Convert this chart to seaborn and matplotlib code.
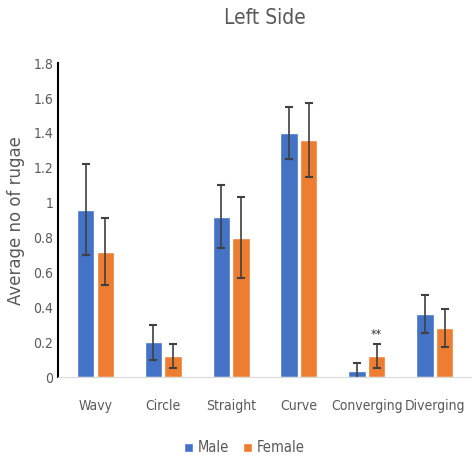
import numpy as np
import pandas as pd
import matplotlib
matplotlib.use("Agg")
import matplotlib.pyplot as plt
import seaborn as sns

# data
categories = ['Wavy', 'Circle', 'Straight', 'Curve', 'Converging', 'Diverging']
male = [0.96, 0.20, 0.92, 1.40, 0.035, 0.36]
female = [0.72, 0.12, 0.80, 1.36, 0.12, 0.28]
male_err = [0.26, 0.10, 0.18, 0.15, 0.045, 0.11]
female_err = [0.19, 0.07, 0.23, 0.21, 0.07, 0.11]

df = pd.DataFrame({
    'shape': categories * 2,
    'value': male + female,
    'sex': ['Male'] * len(categories) + ['Female'] * len(categories),
})

sns.set_style('white')
plt.rcParams['font.family'] = ['DejaVu Sans']
plt.rcParams['font.stretch'] = 'condensed'

fig = plt.figure(figsize=(4.72, 4.61), dpi=100)
ax = fig.add_axes([0.123, 0.182, 0.877, 0.681])

palette = {'Male': '#4472C4', 'Female': '#ED7D31'}
sns.barplot(data=df, x='shape', y='value', hue='sex', palette=palette,
            errorbar=None, width=0.58, gap=0.12, ax=ax, saturation=1)

# error bars on top of each bar
errs = male_err + female_err
for patch, err in zip(ax.patches, errs):
    xc = patch.get_x() + patch.get_width() / 2
    ax.errorbar(xc, patch.get_height(), yerr=err, color='#404040',
                capsize=3, capthick=1.5, elinewidth=1.2)

# significance mark on converging female
conv = ax.patches[len(categories) + 4]
ax.text(conv.get_x() + conv.get_width() / 2, 0.205, '**', ha='center',
        va='bottom', fontsize=9, color='#333333')

ax.set_ylim(0, 1.8)
ax.set_yticks(np.arange(0, 1.81, 0.2))
ax.set_yticklabels(['0', '0.2', '0.4', '0.6', '0.8', '1', '1.2', '1.4', '1.6', '1.8'])
ax.tick_params(axis='both', colors='#595959', labelsize=10, length=0)
ax.tick_params(axis='x', pad=16)
ax.set_xlabel('')
ax.set_ylabel('Average no of rugae', fontsize=12, color='#595959',
              fontstretch='normal', labelpad=6)
ax.set_title('Left Side', fontsize=15, color='#595959', pad=28)

for s in ['top', 'right']:
    ax.spines[s].set_visible(False)
ax.spines['left'].set_color('black')
ax.spines['left'].set_linewidth(1.5)
ax.spines['bottom'].set_color('#D9D9D9')

leg = ax.legend(loc='upper center', bbox_to_anchor=(0.45, -0.16), ncol=2,
                frameon=False, fontsize=10.5, handlelength=0.6, handleheight=0.6,
                handletextpad=0.3, columnspacing=1.0)
for t in leg.get_texts():
    t.set_color('#595959')

fig.savefig('out.png', dpi=100)
